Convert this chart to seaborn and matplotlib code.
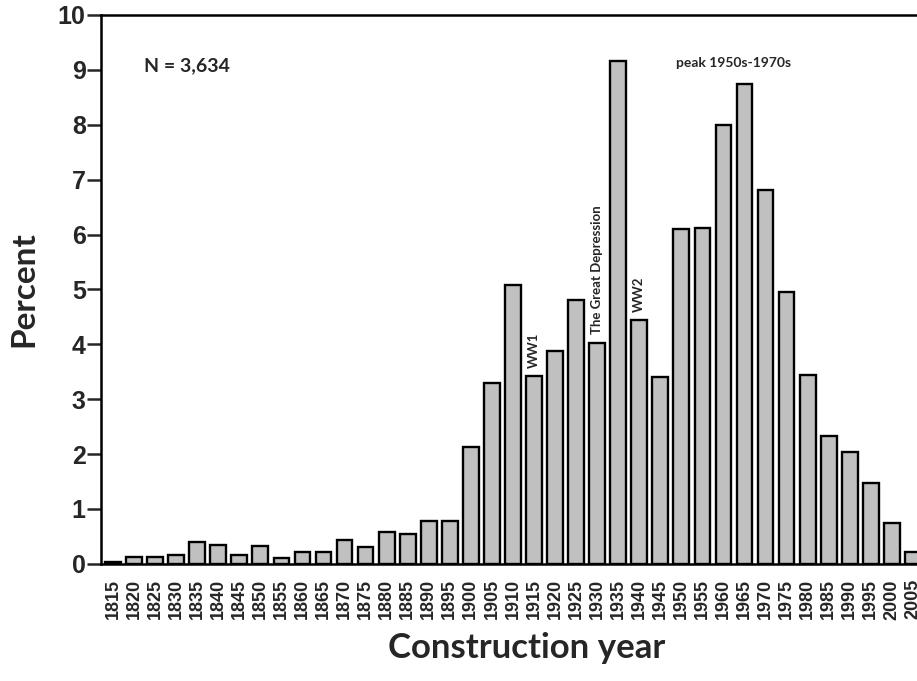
import pandas as pd
import matplotlib
matplotlib.use("Agg")
import matplotlib.pyplot as plt
import seaborn as sns

# Construction year bins (5-year) and share of buildings in percent
years = [1815, 1820, 1825, 1830, 1835, 1840, 1845, 1850, 1855, 1860,
         1865, 1870, 1875, 1880, 1885, 1890, 1895, 1900, 1905, 1910,
         1915, 1920, 1925, 1930, 1935, 1940, 1945, 1950, 1955, 1960,
         1965, 1970, 1975, 1980, 1985, 1990, 1995, 2000, 2005]
percent = [0.03, 0.13, 0.13, 0.165, 0.40, 0.35, 0.165, 0.33, 0.11, 0.21,
           0.21, 0.44, 0.30, 0.58, 0.55, 0.775, 0.775, 2.13, 3.29, 5.08,
           3.42, 3.87, 4.80, 4.03, 9.16, 4.44, 3.40, 6.10, 6.12, 8.00,
           8.74, 6.82, 4.96, 3.45, 2.33, 2.03, 1.47, 0.75, 0.225]

# Event labels placed above selected bars
events = {"1915": "WW1", "1930": "The Great Depression", "1940": "WW2"}

n_text = "N = 3,634"
peak_text = "peak 1950s-1970s"


def main():
    data = pd.DataFrame({"Year": [str(y) for y in years], "Percent": percent})

    sns.set_style("ticks")
    plt.rcParams["font.family"] = ["Liberation Sans", "DejaVu Sans"]
    label_font = ["Lato", "DejaVu Sans"]

    fig = plt.figure(figsize=(9.17, 6.81), dpi=100)
    # axes runs past the right edge of the figure, as in the original figure
    left_px, right_px, unit = 101, 917, 21.05
    ax = fig.add_axes([left_px / 917, 0.172, 1 - left_px / 917, 0.806])

    sns.barplot(x="Year", y="Percent", data=data, color="#c0c0c0",
                saturation=1, edgecolor="black", linewidth=1.7,
                width=0.75, ax=ax)

    ax.set_ylim(0, 10)
    ax.set_xlim(-(113 - left_px) / unit, (right_px - 113) / unit)

    ax.set_yticks(range(0, 11))
    ax.tick_params(axis="y", length=10, width=1.8, labelsize=18, pad=1)
    ax.tick_params(axis="x", length=0, labelsize=13, pad=11, labelrotation=90)
    for lab in ax.get_yticklabels() + ax.get_xticklabels():
        lab.set_fontweight("bold")

    for side in ["left", "bottom", "top"]:
        ax.spines[side].set_linewidth(1.8)
        ax.spines[side].set_color("black")
    ax.spines["right"].set_visible(False)

    ax.set_ylabel("Percent", fontsize=24, fontweight="bold",
                  family=label_font, labelpad=14)
    ax.set_xlabel("Construction year", fontsize=25, fontweight="bold",
                  family=label_font)
    ax.xaxis.set_label_coords(0.521, -0.125)

    ax.text(0.053, 0.907, n_text, transform=ax.transAxes, fontsize=14,
            fontweight="bold", family=label_font, ha="left", va="center")
    ax.text(0.775, 0.913, peak_text, transform=ax.transAxes, fontsize=10,
            fontweight="bold", family=label_font, ha="center", va="center")

    cats = list(data["Year"])
    for yr, label in events.items():
        i = cats.index(yr)
        ax.text(i, data["Percent"][i] + 0.15, label, rotation=90,
                fontsize=9.5, fontweight="bold", family=label_font,
                ha="center", va="bottom")

    fig.savefig("out.png", dpi=100)


if __name__ == "__main__":
    main()
